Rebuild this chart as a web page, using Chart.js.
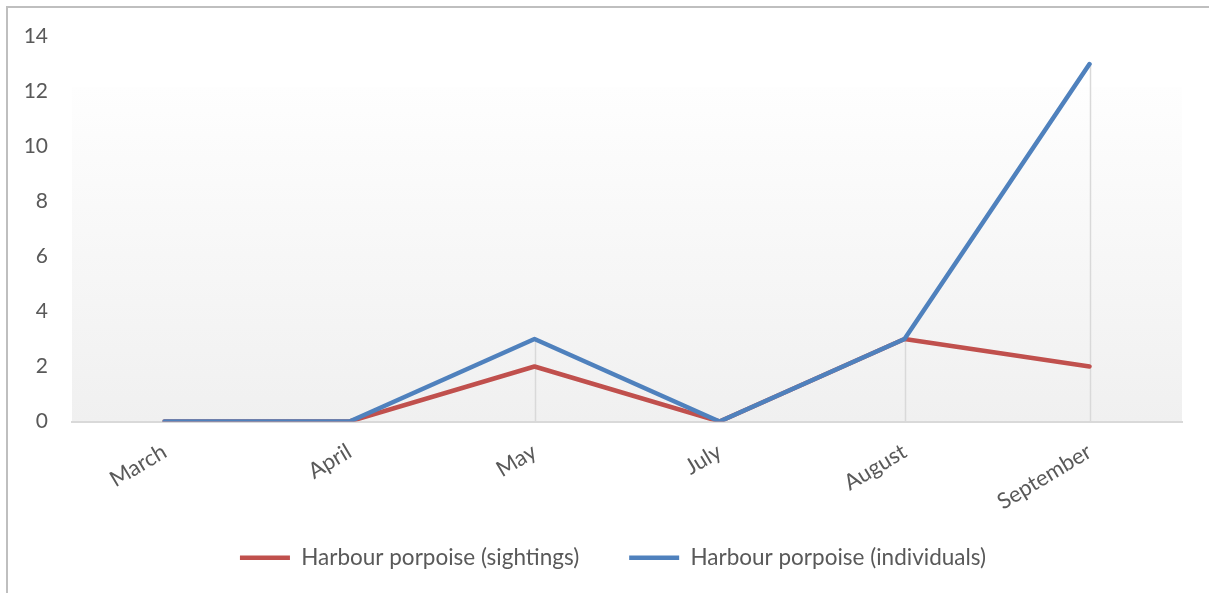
<!DOCTYPE html>
<html>
<head>
<meta charset="utf-8">
<script src="https://cdn.jsdelivr.net/npm/chart.js@4/dist/chart.umd.min.js"></script>
<style>
  html, body { margin: 0; padding: 0; background: #ffffff; }
  #wrap { position: relative; width: 1209px; height: 593px; }
</style>
</head>
<body>
<div id="wrap"><canvas id="chart" width="1209" height="593"></canvas></div>
<script>
// months surveyed and porpoise counts
var months = ['March', 'April', 'May', 'July', 'August', 'September'];
var sightings = [0, 0, 2, 0, 3, 2];
var individuals = [0, 0, 3, 0, 3, 13];
var yTicks = [0, 2, 4, 6, 8, 10, 12, 14];

var textColor = '#595959';
var fontFamily = 'Lato, "Open Sans", sans-serif';

// gradient plot background, outer frame and drop lines
var decor = {
  id: 'decor',
  afterLayout: function(chart) {
    // nudge the legend row a little to the right
    chart.legend.left += 22;
    chart.legend.right += 22;
  },
  beforeDraw: function(chart) {
    var ctx = chart.ctx, area = chart.chartArea;
    var top = 87;
    var g = ctx.createLinearGradient(0, top, 0, area.bottom);
    g.addColorStop(0, '#fefefe');
    g.addColorStop(1, '#f0f0f0');
    ctx.save();
    ctx.fillStyle = g;
    ctx.fillRect(area.left, top, area.right - area.left, area.bottom - top);
    ctx.strokeStyle = '#bfbfbf';
    ctx.lineWidth = 2;
    ctx.beginPath();
    ctx.moveTo(7, 593);
    ctx.lineTo(7, 7);
    ctx.lineTo(1209, 7);
    ctx.stroke();
    ctx.restore();
  },
  beforeDatasetsDraw: function(chart) {
    var ctx = chart.ctx, x = chart.scales.x, y = chart.scales.y;
    ctx.save();
    ctx.strokeStyle = '#d9d9d9';
    ctx.lineWidth = 1.5;
    months.forEach(function(m, i) {
      var top = Math.max(sightings[i], individuals[i]);
      if (top <= 0) return;
      var px = Math.round(x.getPixelForValue(i)) + 0.5;
      ctx.beginPath();
      ctx.moveTo(px, y.getPixelForValue(top));
      ctx.lineTo(px, y.getPixelForValue(0));
      ctx.stroke();
    });
    ctx.restore();
  }
};

new Chart(document.getElementById('chart'), {
  type: 'line',
  data: {
    labels: months,
    datasets: [{
      label: 'Harbour porpoise (sightings)',
      data: sightings,
      borderColor: '#c0504d',
      backgroundColor: '#c0504d',
      borderWidth: 4.5,
      order: 1
    }, {
      label: 'Harbour porpoise (individuals)',
      data: individuals,
      borderColor: '#4f81bd',
      backgroundColor: '#4f81bd',
      borderWidth: 4.5,
      order: 0
    }]
  },
  options: {
    responsive: false,
    animation: false,
    devicePixelRatio: 1,
    layout: { padding: { top: 35, right: 27, bottom: 14, left: 0 } },
    elements: {
      line: { tension: 0, borderCapStyle: 'round', borderJoinStyle: 'round' },
      point: { radius: 0, hoverRadius: 0, pointStyle: 'line' }
    },
    scales: {
      x: {
        offset: true,
        grid: { display: false, drawTicks: false },
        border: { display: true, color: '#d9d9d9', width: 2 },
        ticks: {
          color: textColor,
          font: { family: fontFamily, size: 22 },
          minRotation: 31,
          maxRotation: 31,
          padding: 17
        },
        afterFit: function(s) {
          s.height = 75;
          // long rotated labels run into the legend row, don't clip them
          s._computeLabelArea = function() { return undefined; };
        }
      },
      y: {
        min: 0,
        max: 14,
        grid: { display: false, drawTicks: false },
        border: { display: false },
        afterBuildTicks: function(s) { s.ticks = yTicks.map(function(v) { return { value: v }; }); },
        ticks: {
          color: textColor,
          font: { family: fontFamily, size: 21 },
          padding: 24
        },
        afterFit: function(s) { s.width = 72; }
      }
    },
    plugins: {
      tooltip: { enabled: false },
      legend: {
        position: 'bottom',
        labels: {
          usePointStyle: true,
          pointStyle: 'line',
          pointStyleWidth: 50,
          color: textColor,
          font: { family: fontFamily, size: 22.5 },
          padding: 50,
          sort: function(a, b) { return a.datasetIndex - b.datasetIndex; }
        }
      }
    }
  },
  plugins: [decor]
});
</script>
</body>
</html>
